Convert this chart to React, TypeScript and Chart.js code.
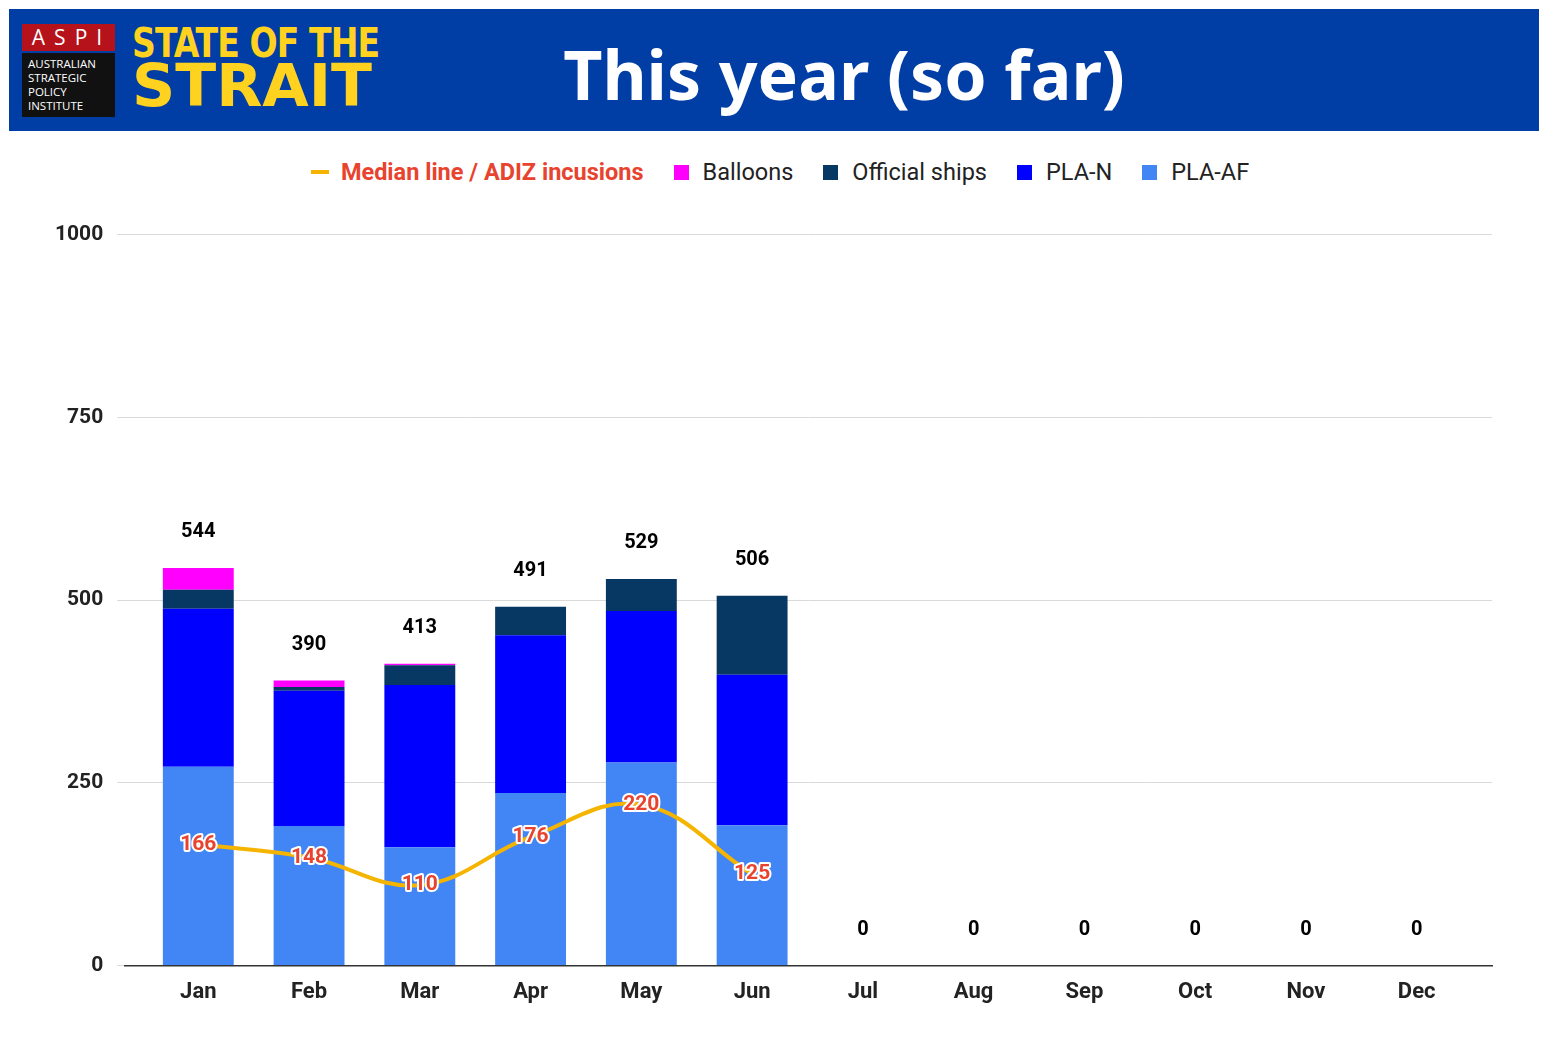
import React, { useEffect, useRef } from "react";
import { Chart, registerables } from "chart.js";
Chart.register(...registerables);

const months = ["Jan","Feb","Mar","Apr","May","Jun","Jul","Aug","Sep","Oct","Nov","Dec"];
const plaAF = [272,191,162,236,278,192,0,0,0,0,0,0];
const plaN = [216,185,222,216,207,206,0,0,0,0,0,0];
const officialShips = [26,5,27,39,44,108,0,0,0,0,0,0];
const balloons = [30,9,2,0,0,0,0,0,0,0,0,0];
const totals = [544,390,413,491,529,506,0,0,0,0,0,0];
const median = [166,148,110,176,220,125];
const yTicks = [0,250,500,750,1000];

const pts = (arr: number[]) => arr.map((v, i) => ({ x: i, y: v }));

const labelPlugin = {
  id: "labels",
  afterDatasetsDraw(chart: any) {
    const ctx = chart.ctx;
    const x = chart.scales.x, y = chart.scales.y;
    ctx.save();
    ctx.textAlign = "center";
    ctx.textBaseline = "middle";
    ctx.font = "bold 20px Roboto";
    ctx.fillStyle = "#000";
    totals.forEach((t, i) => {
      ctx.fillText(String(t), x.getPixelForValue(i), y.getPixelForValue(t) - 36);
    });
    const meta = chart.getDatasetMeta(4);
    ctx.font = "bold 21px Roboto";
    ctx.lineWidth = 4;
    ctx.strokeStyle = "#fff";
    ctx.fillStyle = "#e8432e";
    ctx.lineJoin = "round";
    meta.data.forEach((p: any, i: number) => {
      ctx.strokeText(String(median[i]), p.x, p.y);
      ctx.fillText(String(median[i]), p.x, p.y);
    });
    ctx.restore();
  },
};

export default function App() {
  const ref = useRef<HTMLCanvasElement>(null);
  useEffect(() => {
    const c = new Chart(ref.current!, {
      type: "bar",
      data: {
        datasets: [
          { label: "PLA-AF", data: pts(plaAF), backgroundColor: "#4285f4", stack: "s", order: 2 },
          { label: "PLA-N", data: pts(plaN), backgroundColor: "#0000ff", stack: "s", order: 2 },
          { label: "Official ships", data: pts(officialShips), backgroundColor: "#073763", stack: "s", order: 2 },
          { label: "Balloons", data: pts(balloons), backgroundColor: "#ff00ff", stack: "s", order: 2 },
          { type: "line", label: "Median", data: pts(median), borderColor: "#f4b400", borderWidth: 4, pointRadius: 0, tension: 0.4, stack: "m", order: 1 } as any,
        ],
      },
      options: {
        animation: false,
        responsive: true,
        maintainAspectRatio: false,
        layout: { padding: { top: 9, bottom: 40, left: 33, right: 50 } },
        datasets: { bar: { barPercentage: 0.64, categoryPercentage: 1 } },
        plugins: { legend: { display: false }, tooltip: { enabled: false } },
        scales: {
          x: {
            type: "linear",
            stacked: true,
            offset: false,
            min: -0.66, max: 11.68,
            afterBuildTicks: (s: any) => { s.ticks = months.map((_, i) => ({ value: i })); },
            grid: { display: false },
            border: { color: "#333", width: 1.5 },
            ticks: { color: "#222", font: { family: "Roboto", size: 22, weight: "bold" }, padding: 6, autoSkip: false, maxRotation: 0, callback: (v: any) => months[v] ?? "" },
          },
          y: {
            stacked: true,
            min: 0, max: 1000,
            afterBuildTicks: (s: any) => { s.ticks = yTicks.map((v) => ({ value: v })); },
            grid: { color: "#d9d9d9" },
            border: { display: false },
            ticks: { color: "#222", font: { family: "Roboto", size: 21, weight: "bold" }, padding: 14, callback: (v: any) => String(v) },
          },
        },
      },
      plugins: [labelPlugin],
    } as any);
    return () => c.destroy();
  }, []);

  const legend = [
    { label: "Balloons", color: "#ff00ff" },
    { label: "Official ships", color: "#073763" },
    { label: "PLA-N", color: "#0000ff" },
    { label: "PLA-AF", color: "#4285f4" },
  ];
  return (
    <div style={{ position: "relative", width: 1534, height: 1023, fontFamily: "Roboto" }}>
      <div style={{ position: "absolute", left: 1, top: 1, width: 1530, height: 122, background: "#003da5" }}>
        <div style={{ position: "absolute", left: 13, top: 15, width: 93, height: 93, fontFamily: "'Open Sans'" }}>
          <div style={{ background: "#b5121b", height: 27, color: "#fff", fontSize: 21, letterSpacing: 9, textAlign: "center", lineHeight: "27px", paddingLeft: 6 }}>ASPI</div>
          <div style={{ background: "#111", height: 64, marginTop: 2, color: "#fff", fontSize: 11.5, lineHeight: "14px", padding: "4px 0 0 6px", boxSizing: "border-box" }}>
            AUSTRALIAN<br />STRATEGIC<br />POLICY<br />INSTITUTE
          </div>
        </div>
        <div style={{ position: "absolute", left: 123, top: 14, color: "#ffd21f", fontFamily: "'DejaVu Sans Condensed'", fontWeight: "bold", lineHeight: 1 }}>
          <div style={{ fontSize: 40, transform: "scaleX(0.92)", transformOrigin: "left", letterSpacing: -1 }}>STATE OF THE</div>
          <div style={{ fontSize: 58, marginTop: -6, transform: "scaleX(1.15)", transformOrigin: "left", letterSpacing: 0 }}>STRAIT</div>
        </div>
        <div style={{ position: "absolute", left: 400, width: 870, top: 18, textAlign: "center", color: "#fff", fontFamily: "'Noto Sans'", fontWeight: "bold", fontSize: 68 }}>
          This year (so far)
        </div>
      </div>
      <div style={{ position: "absolute", left: 0, top: 150, width: 1534, textAlign: "center", fontSize: 23.5, display: "flex", justifyContent: "center", gap: 30, paddingLeft: 10, boxSizing: "border-box" }}>
        <span style={{ display: "flex", alignItems: "center", gap: 12, color: "#e8432e", fontWeight: "bold" }}>
          <span style={{ display: "inline-block", width: 18, height: 4, background: "#f4b400" }} />Median line / ADIZ incusions
        </span>
        {legend.map((l) => (
          <span key={l.label} style={{ display: "flex", alignItems: "center", gap: 14, color: "#222" }}>
            <span style={{ display: "inline-block", width: 15, height: 15, background: l.color }} />{l.label}
          </span>
        ))}
      </div>
      <div style={{ position: "absolute", left: 0, top: 200, width: 1534, height: 844 }}>
        <canvas ref={ref} />
      </div>
    </div>
  );
}
